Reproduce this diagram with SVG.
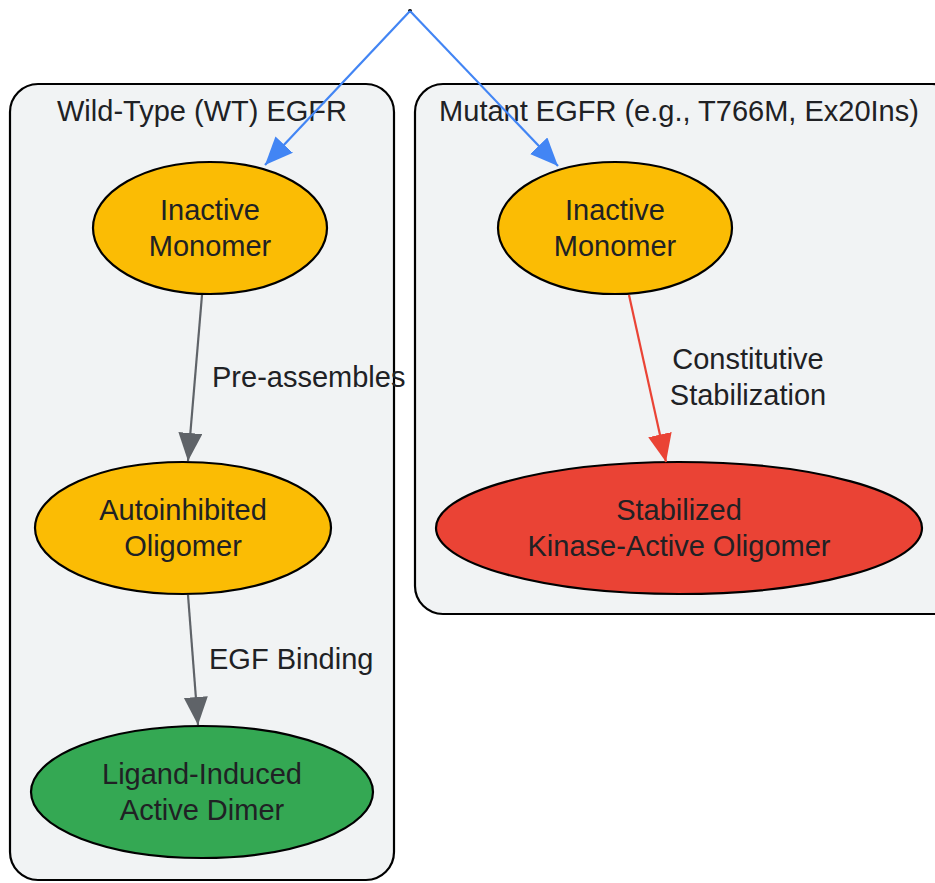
<svg xmlns="http://www.w3.org/2000/svg" width="935" height="883" viewBox="0 0 935 883">
<defs>
<style>
.cl{fill:#F1F3F4;stroke:#000;stroke-width:2.2}
.nd{stroke:#000;stroke-width:2.2}
.t{font-family:"Liberation Sans",Arial,sans-serif;font-size:29px;fill:#202124}
.c{text-anchor:middle}
.e{fill:none;stroke-width:2.2}
</style>
<marker id="ab" markerUnits="userSpaceOnUse" markerWidth="30" markerHeight="26" refX="28" refY="12" orient="auto"><path d="M0,0 L28,12 L0,24 z" fill="#4285F4"/></marker>
<marker id="ag" markerUnits="userSpaceOnUse" markerWidth="30" markerHeight="26" refX="28" refY="12" orient="auto"><path d="M0,0 L28,12 L0,24 z" fill="#5F6368"/></marker>
<marker id="ar" markerUnits="userSpaceOnUse" markerWidth="30" markerHeight="26" refX="28" refY="12" orient="auto"><path d="M0,0 L28,12 L0,24 z" fill="#EA4335"/></marker>
</defs>
<rect width="935" height="883" fill="#fff"/>
<g id="cluster_wt">
<rect class="cl" x="10" y="84" width="384" height="796" rx="28"/>
<text class="t c" x="202" y="121">Wild-Type (WT) EGFR</text>
</g>
<g id="cluster_mut">
<rect class="cl" x="415" y="84" width="545" height="530" rx="28"/>
<text class="t c" x="679" y="121">Mutant EGFR (e.g., T766M, Ex20Ins)</text>
</g>
<g id="start"><circle cx="410" cy="11" r="2" fill="#000"/></g>
<g id="wt_inactive">
<ellipse class="nd" cx="210" cy="228" rx="117" ry="66" fill="#FBBC04"/>
<text class="t c" x="210" y="220">Inactive</text>
<text class="t c" x="210" y="256">Monomer</text>
</g>
<g id="wt_oligomer">
<ellipse class="nd" cx="183" cy="528" rx="148" ry="66" fill="#FBBC04"/>
<text class="t c" x="183" y="520">Autoinhibited</text>
<text class="t c" x="183" y="556">Oligomer</text>
</g>
<g id="wt_dimer">
<ellipse class="nd" cx="202" cy="792" rx="171" ry="66" fill="#34A853"/>
<text class="t c" x="202" y="784">Ligand-Induced</text>
<text class="t c" x="202" y="820">Active Dimer</text>
</g>
<g id="mut_inactive">
<ellipse class="nd" cx="615" cy="228" rx="117" ry="66" fill="#FBBC04"/>
<text class="t c" x="615" y="220">Inactive</text>
<text class="t c" x="615" y="256">Monomer</text>
</g>
<g id="mut_oligomer">
<ellipse class="nd" cx="679" cy="528" rx="243" ry="66" fill="#EA4335"/>
<text class="t c" x="679" y="520">Stabilized</text>
<text class="t c" x="679" y="556">Kinase-Active Oligomer</text>
</g>
<g id="connectors">
<path class="e" d="M410,11 L265,165" stroke="#4285F4" marker-end="url(#ab)"/>
<path class="e" d="M410,11 L558,166" stroke="#4285F4" marker-end="url(#ab)"/>
<path class="e" d="M202,295 L188,461" stroke="#5F6368" marker-end="url(#ag)"/>
<text class="t" x="212" y="387">Pre-assembles</text>
<path class="e" d="M188,595 L198,725" stroke="#5F6368" marker-end="url(#ag)"/>
<text class="t" x="209" y="669">EGF Binding</text>
<path class="e" d="M629,295 L666,462" stroke="#EA4335" marker-end="url(#ar)"/>
<text class="t c" x="748" y="369">Constitutive</text>
<text class="t c" x="748" y="405">Stabilization</text>
</g>
</svg>
